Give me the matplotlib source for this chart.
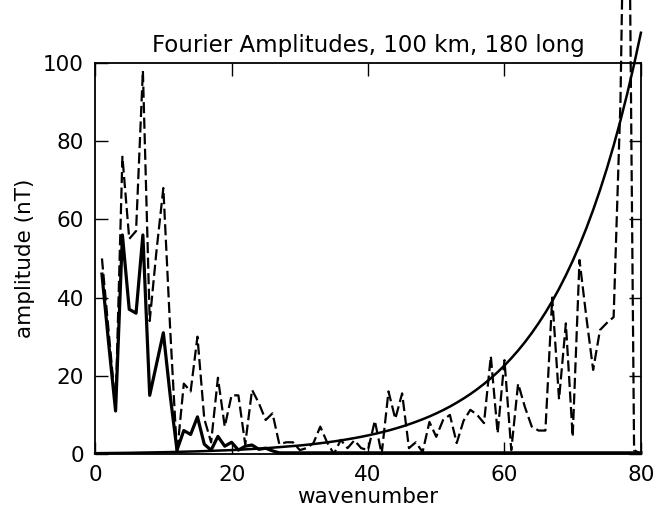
import matplotlib
matplotlib.use("Agg")
import matplotlib.pyplot as plt

# ---- data ----
wavenumber = list(range(1, 81))

dashed_amp = [50, 31, 12, 76, 55, 57, 98, 34, 52, 68,
              32, 0, 18, 16, 30, 9, 3, 19.5, 7, 15,
              15, 2.5, 16.4, 13, 8.7, 10.4, 2.5, 3, 3, 1,
              1.5, 2.8, 7, 3, 0, 3.6, 1.5, 3.5, 1.5, 1,
              8.5, 0, 16, 9, 15.5, 1.5, 3, 0.5, 8.2, 4.4,
              8.7, 10, 2.8, 8.5, 11.3, 10, 7.9, 25, 5.3, 24,
              1, 18, 12, 7, 6, 6, 40, 14, 33.4, 4.4,
              49.6, 35, 21.5, 31.7, 33.5, 35, 90, 200, 1, 0]

solid_amp = [46, 28, 11, 56, 37, 36, 56, 15, 23, 31,
             15, 1, 6, 5, 9.5, 2.5, 1, 4.5, 2, 3,
             1, 2, 2.3, 1.2, 1.5, 0.8] + [0.3] * 54

curve_x = [0, 5, 10, 15, 20, 25,
           30, 31, 32, 33, 34, 35, 36, 37, 38, 39,
           40, 41, 42, 43, 44, 45, 46, 47, 48, 49,
           50, 51, 52, 53, 54, 55, 56, 57, 58, 59,
           60, 61, 62, 63, 64, 65, 66, 67, 68, 69,
           70, 71, 72, 73, 74, 75, 76, 77, 78, 79, 80]
curve_y = [0.21, 0.31, 0.46, 0.68, 1.00, 1.48,
           2.18, 2.36, 2.55, 2.76, 2.98, 3.22, 3.48, 3.77, 4.07, 4.40,
           4.76, 5.15, 5.56, 6.01, 6.50, 7.03, 7.60, 8.22, 8.88, 9.60,
           10.38, 11.22, 12.13, 13.12, 14.18, 15.33, 16.57, 17.92, 19.37, 20.94,
           22.64, 24.48, 26.46, 28.61, 30.93, 33.44, 36.15, 39.08, 42.25, 45.68,
           49.38, 53.39, 57.72, 62.40, 67.46, 72.93, 78.84, 85.24, 92.15, 99.62, 107.70]

xticks = [0, 20, 40, 60, 80]
yticks = [0, 20, 40, 60, 80, 100]

title = "Fourier Amplitudes, 100 km, 180 long"
xlabel = "wavenumber"
ylabel = "amplitude (nT)"

# ---- figure ----
plt.rcParams['font.family'] = ['DejaVu Sans']
fig = plt.figure(figsize=(6.56, 5.07), dpi=100)
ax = fig.add_axes([0.145, 0.1045, 0.832, 0.7715])

ax.plot(wavenumber, dashed_amp, color='black', lw=1.6,
        linestyle=(0, (5, 2)), clip_on=False, zorder=3)
ax.plot(wavenumber, solid_amp, color='black', lw=2.3,
        clip_on=False, zorder=3)
ax.plot(curve_x, curve_y, color='black', lw=1.8, clip_on=False, zorder=3)

ax.set_xlim(0, 80)
ax.set_ylim(0, 100)
ax.set_xticks(xticks)
ax.set_yticks(yticks)
ax.tick_params(direction='in', length=9, width=1.0, top=True, right=True,
               labelsize=15.5, pad=8, colors='black')
for s in ax.spines.values():
    s.set_linewidth(1.3)

ax.set_title(title, fontsize=16.5, pad=8)
ax.set_xlabel(xlabel, fontsize=15.5, labelpad=1)
ax.set_ylabel(ylabel, fontsize=15.5, labelpad=6)

fig.savefig("out.png", dpi=100)
